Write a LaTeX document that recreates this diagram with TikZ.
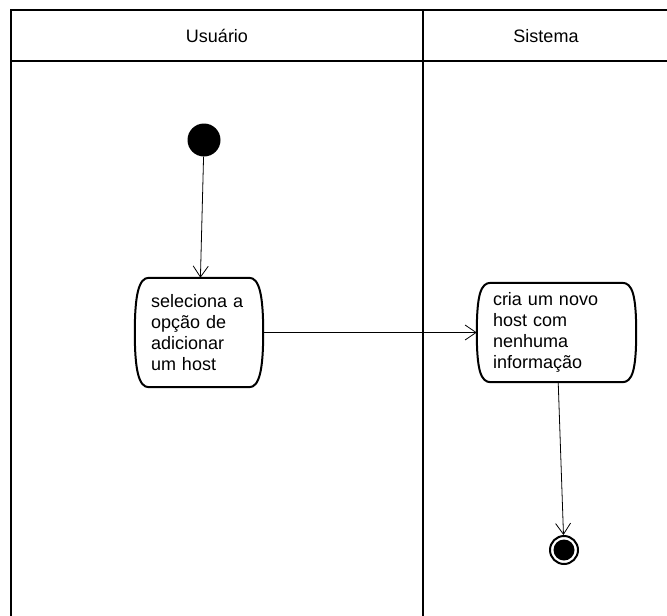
\documentclass[tikz,border=0pt]{standalone}
\usepackage{fontspec}
\setmainfont{Liberation Sans}
\usetikzlibrary{arrows.meta}
\tikzset{
	lane/.style={line width=2.5pt},
	lanetitle/.style={font=\fontsize{18}{21}\selectfont},
	action/.style={rectangle,inner xsep=16pt,inner ysep=0pt,align=left,
		font=\fontsize{18}{21}\selectfont},
	flow/.style={-{Straight Barb[length=11pt,width=15pt]},line width=0.8pt},
	initial/.style={circle,fill,minimum size=33pt,inner sep=0},
	final/.style={circle,draw,line width=2pt,minimum size=28pt,inner sep=0,
		path picture={\fill (path picture bounding box.center) circle (10.5pt);}}
}
\begin{document}
\begin{tikzpicture}[x=1pt,y=-1pt]
\useasboundingbox (0,0) rectangle (667,616);
% raias
\draw[lane] (667,10) -- (11,10) -- (11,616);
\draw[lane] (11,61) -- (667,61);
\draw[lane] (423,10) -- (423,616);
\node[lanetitle] (usuario) at (217,36) {Usuário};
\node[lanetitle] (sistema) at (546,36) {Sistema};

\node[initial] (inicio) at (204,140) {};
\node[action,text width=96pt,minimum height=109pt] (seleciona) at (199,332.5)
	{seleciona a\\opção de\\adicionar\\um host};
\node[action,text width=127pt,minimum height=99pt] (cria) at (556.5,332.5)
	{cria um novo\\host com\\nenhuma\\informação};
\node[final] (fim) at (564,550) {};

% contorno das acoes
\foreach \n in {seleciona,cria}
	\draw[line width=2pt] ([xshift=14pt]\n.north west) -- ([xshift=-14pt]\n.north east)
		.. controls ([xshift=-4pt]\n.north east) and ([yshift=38pt]\n.east) .. (\n.east)
		.. controls ([yshift=-38pt]\n.east) and ([xshift=-4pt]\n.south east) .. ([xshift=-14pt]\n.south east)
		-- ([xshift=14pt]\n.south west)
		.. controls ([xshift=4pt]\n.south west) and ([yshift=-38pt]\n.west) .. (\n.west)
		.. controls ([yshift=38pt]\n.west) and ([xshift=4pt]\n.north west) .. cycle;

\draw[flow] (inicio) -- (seleciona);
\draw[flow] (seleciona.east) -- (cria.west);
\draw[flow] (cria) -- (fim);
\end{tikzpicture}
\end{document}
